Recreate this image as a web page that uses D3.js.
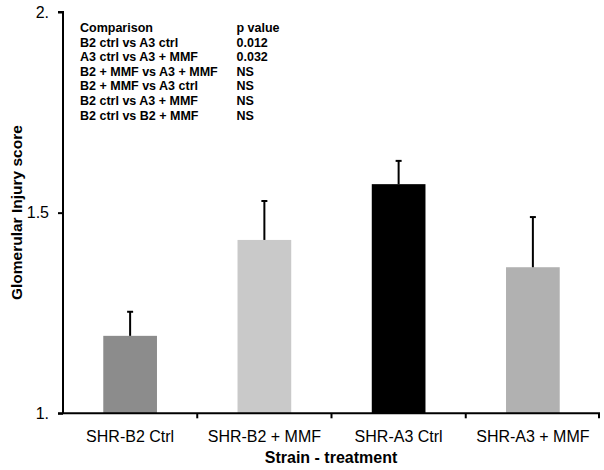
<!DOCTYPE html>
<html><head><meta charset="utf-8">
<script src="https://cdn.jsdelivr.net/npm/d3@7"></script>
<style>body{margin:0;background:#fff;} svg{display:block;}</style>
</head><body>
<svg id="chart" width="604" height="470"></svg>
<script>
const categories = ["SHR-B2 Ctrl", "SHR-B2 + MMF", "SHR-A3 Ctrl", "SHR-A3 + MMF"];
const means = [1.193, 1.432, 1.571, 1.364];
const errorTops = [1.253, 1.529, 1.629, 1.489];
const barColors = ["#8c8c8c", "#c9c9c9", "#000000", "#b1b1b1"];
const yTicks = [1.0, 1.5, 2.0];
const yTickLabels = ["1.", "1.5", "2."];
const comparisons = ["B2 ctrl vs A3 ctrl", "A3 ctrl vs A3 + MMF", "B2 + MMF vs A3 + MMF", "B2 + MMF vs A3 ctrl", "B2 ctrl vs A3 + MMF", "B2 ctrl vs B2 + MMF"];
const pValues = ["0.012", "0.032", "NS", "NS", "NS", "NS"];

(function () {
const svg = d3.select("#chart");
const mLeft = 63, mRight = 600, mTop = 12, mBottom = 413.3;
const font = "Arial, 'Liberation Sans', sans-serif";

const x = d3.scaleBand().domain(categories).range([mLeft, mRight]).paddingInner(0.6).paddingOuter(0.3);
const y = d3.scaleLinear().domain([1, 2]).range([mBottom, mTop]);

// bars
svg.selectAll("rect.bar").data(categories).enter().append("rect")
  .attr("x", d => x(d)).attr("width", x.bandwidth())
  .attr("y", (d, i) => y(means[i])).attr("height", (d, i) => y(1) - y(means[i]))
  .attr("fill", (d, i) => barColors[i]);

// error bars
const eg = svg.append("g").attr("stroke", "#000").attr("stroke-width", 2);
categories.forEach((c, i) => {
  const cx = x(c) + x.bandwidth() / 2;
  eg.append("line").attr("x1", cx).attr("x2", cx).attr("y1", y(means[i])).attr("y2", y(errorTops[i]));
  eg.append("line").attr("x1", cx - 3).attr("x2", cx + 3).attr("y1", y(errorTops[i])).attr("y2", y(errorTops[i]));
});

// y axis
const yAxis = d3.axisLeft(y).tickValues(yTicks).tickFormat((d, i) => yTickLabels[i]).tickSize(5).tickPadding(9);
const ya = svg.append("g").attr("transform", `translate(${mLeft},0)`).call(yAxis);
ya.select(".domain").attr("stroke", "#000").attr("stroke-width", 2).attr("d", `M-5,${mTop}H0V${mBottom}`);
ya.selectAll(".tick line").attr("stroke", "#000").attr("stroke-width", 2);
ya.selectAll(".tick text").attr("font-family", font).attr("font-size", 16).attr("fill", "#000");

// x axis
const xa = svg.append("g").attr("transform", `translate(0,${mBottom})`);
xa.append("line").attr("x1", mLeft - 5).attr("x2", mRight).attr("y1", 0).attr("y2", 0).attr("stroke", "#000").attr("stroke-width", 2);
const boundaries = categories.map(c => x(c) - x.step() * x.paddingInner() / 2).slice(1).concat([mRight - 1]);
xa.selectAll("line.tk").data(boundaries).enter().append("line")
  .attr("x1", d => d).attr("x2", d => d).attr("y1", 0).attr("y2", 5)
  .attr("stroke", "#000").attr("stroke-width", 2);
xa.selectAll("text").data(categories).enter().append("text")
  .attr("x", d => x(d) + x.bandwidth() / 2).attr("y", 28.3)
  .attr("text-anchor", "middle").attr("font-family", font).attr("font-size", 16).attr("fill", "#000")
  .text(d => d);

// axis titles
svg.append("text").attr("x", 331).attr("y", 463).attr("text-anchor", "middle")
  .attr("font-family", font).attr("font-size", 16).attr("font-weight", "bold").text("Strain - treatment");
svg.append("text").attr("transform", `translate(22,${(mTop + mBottom) / 2}) rotate(-90)`).attr("text-anchor", "middle")
  .attr("font-family", font).attr("font-size", 15.5).attr("font-weight", "bold").text("Glomerular Injury score");

// table
const tg = svg.append("g").attr("font-family", font).attr("font-size", 12.5).attr("font-weight", "bold").attr("fill", "#000");
const rowY = i => 32 + i * 14.6;
tg.append("text").attr("x", 80).attr("y", rowY(0)).text("Comparison");
tg.append("text").attr("x", 236.5).attr("y", rowY(0)).text("p value");
comparisons.forEach((c, i) => {
  tg.append("text").attr("x", 80).attr("y", rowY(i + 1)).text(c);
  tg.append("text").attr("x", 236.5).attr("y", rowY(i + 1)).text(pValues[i]);
});
})();
</script>
</body></html>
